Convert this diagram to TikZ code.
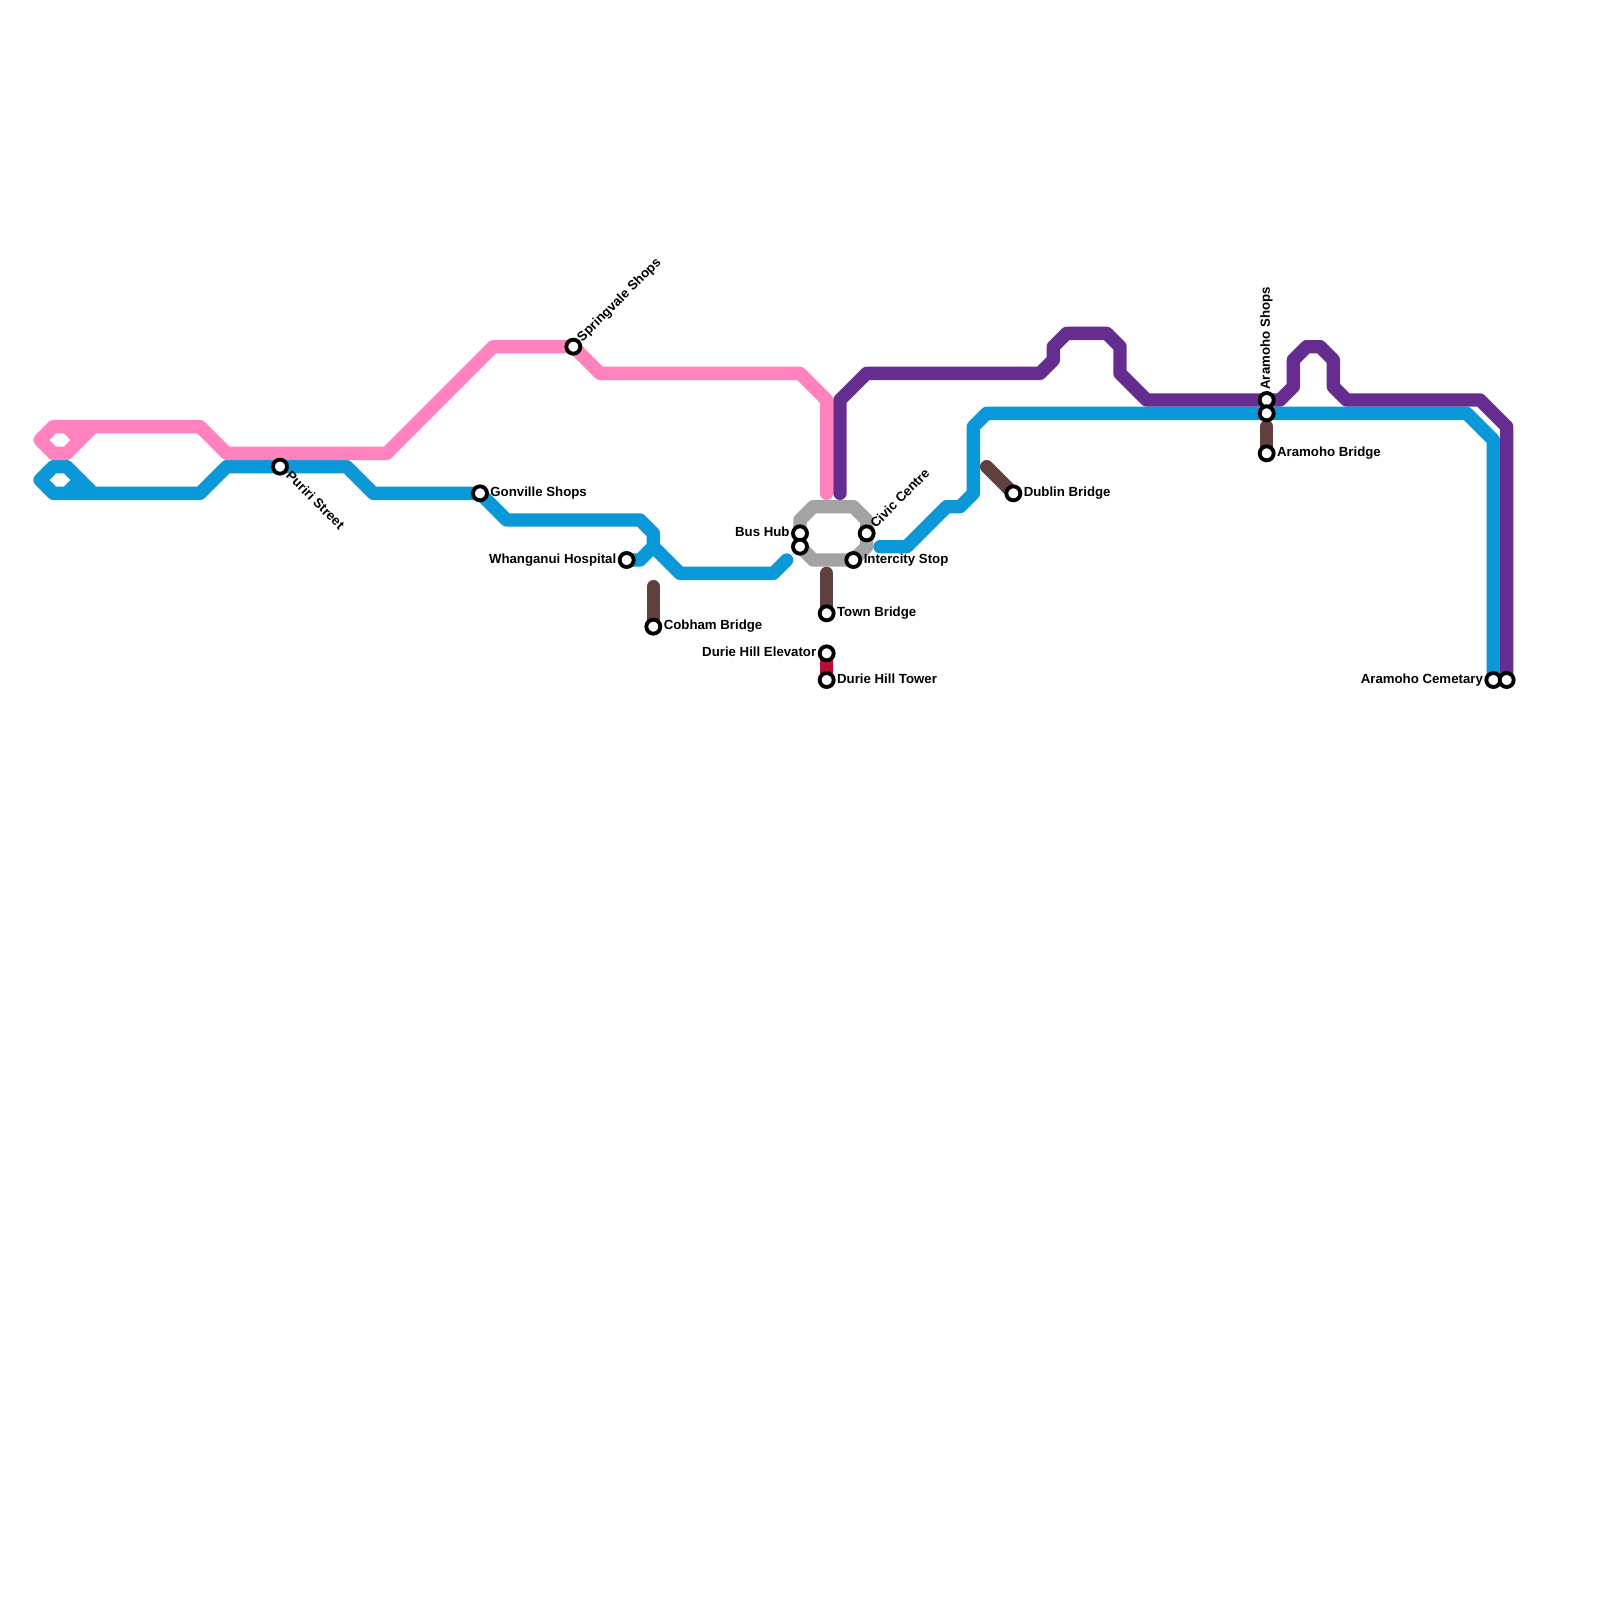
\documentclass[tikz,border=0pt]{standalone}
\usepackage{fontspec}
\setmainfont{Liberation Sans}[BoldFont={Liberation Sans Bold}]
\definecolor{pinkline}{HTML}{FF82BF}
\definecolor{blueline}{HTML}{0A98D8}
\definecolor{purpleline}{HTML}{662D91}
\definecolor{grayline}{HTML}{A3A3A3}
\definecolor{brownline}{HTML}{603F3F}
\definecolor{redline}{HTML}{BB0D36}
\tikzset{
  route/.style={line width=0.4cm,line cap=round,line join=round},
  stn/.style={circle,draw=black,fill=white,line width=0.115cm,minimum size=0.42cm,inner sep=0pt},
  lbl/.style={font=\bfseries\fontsize{11.3pt}{13pt}\selectfont,inner sep=0pt,text height=5.6pt,text depth=0pt}
}
\begin{document}
\begin{tikzpicture}[x=0.4cm,y=-0.4cm]
\useasboundingbox[fill=white] (0,0) rectangle (120,120);
% stations
\coordinate (puriri) at (21,35);
\coordinate (gonville) at (36,37);
\coordinate (springvale) at (43,26);
\coordinate (hospital) at (47,42);
\coordinate (cobham) at (49,47);
\coordinate (hubA) at (60,40);
\coordinate (hubB) at (60,41);
\coordinate (civic) at (65,40);
\coordinate (intercity) at (64,42);
\coordinate (town) at (62,46);
\coordinate (elevator) at (62,49);
\coordinate (tower) at (62,51);
\coordinate (dublin) at (76,37);
\coordinate (shops) at (95,30);
\coordinate (shopsB) at (95,31);
\coordinate (abridge) at (95,34);
\coordinate (cemA) at (112,51);
\coordinate (cemB) at (113,51);
\coordinate (brownA) at (49,44);
\coordinate (brownB) at (62,43);
\coordinate (brownC) at (74,35);
\coordinate (brownD) at (95,32);
% routes
\draw[route,grayline] (60,39) -- (61,38) -- (64,38) -- (65,39) -- (civic) -- (65,41) -- (64,42) -- (61,42) -- (hubB) -- (hubA) -- cycle;
\draw[route,blueline] (7,37) -- (5,35) -- (4,35) -- (3,36) -- (4,37) -- (15,37) -- (17,35) -- (puriri) -- (26,35) -- (28,37) -- (gonville) -- (38,39) -- (48,39) -- (49,40) -- (49,41) -- (51,43) -- (58,43) -- (59,42);
\draw[route,blueline] (5,37) -- (6,36);
\draw[route,blueline] (hospital) -- (48,42) -- (49,41);
\draw[route,blueline] (66,41) -- (68,41) -- (71,38) -- (72,38) -- (73,37) -- (73,32) -- (74,31) -- (shopsB) -- (110,31) -- (112,33) -- (cemA);
\draw[route,pinkline] (7,32) -- (5,34) -- (4,34) -- (3,33) -- (4,32) -- (15,32) -- (17,34) -- (29,34) -- (37,26) -- (springvale) -- (45,28) -- (60,28) -- (62,30) -- (62,37);
\draw[route,pinkline] (5,32) -- (6,33);
\draw[route,purpleline] (63,37) -- (63,30) -- (65,28) -- (78,28) -- (79,27) -- (79,26) -- (80,25) -- (83,25) -- (84,26) -- (84,28) -- (86,30) -- (shops) -- (96,30) -- (97,29) -- (97,27) -- (98,26) -- (99,26) -- (100,27) -- (100,29) -- (101,30) -- (111,30) -- (113,32) -- (cemB);
\draw[route,brownline] (brownA) -- (cobham);
\draw[route,brownline] (brownB) -- (town);
\draw[route,brownline] (brownC) -- (dublin);
\draw[route,brownline] (brownD) -- (abridge);
\draw[route,redline] (elevator) -- (tower);
% station markers
\foreach \s in {puriri,gonville,springvale,hospital,cobham,hubA,hubB,civic,intercity,town,elevator,tower,dublin,shops,shopsB,abridge,cemA,cemB}
  \node[stn] (m\s) at (\s) {};
% labels
\node[lbl,anchor=west,rotate=-45] (tpuriri) at ([shift={(-45:9pt)}]puriri) {Puriri Street};
\node[lbl,anchor=west] (tgonville) at ([xshift=8.7pt]gonville) {Gonville Shops};
\node[lbl,anchor=west,rotate=45] (tspringvale) at ([shift={(45:8pt)}]springvale) {Springvale Shops};
\node[lbl,anchor=east] (thospital) at ([xshift=-8.7pt]hospital) {Whanganui Hospital};
\node[lbl,anchor=west] (tcobham) at ([xshift=8.7pt]cobham) {Cobham Bridge};
\node[lbl,anchor=east] (thub) at ([xshift=-8.7pt]hubA) {Bus Hub};
\node[lbl,anchor=west,rotate=45] (tcivic) at ([shift={(45:8pt)}]civic) {Civic Centre};
\node[lbl,anchor=west] (tintercity) at ([xshift=8.7pt]intercity) {Intercity Stop};
\node[lbl,anchor=west] (ttown) at ([xshift=8.7pt]town) {Town Bridge};
\node[lbl,anchor=east] (televator) at ([xshift=-8.7pt]elevator) {Durie Hill Elevator};
\node[lbl,anchor=west] (ttower) at ([xshift=8.7pt]tower) {Durie Hill Tower};
\node[lbl,anchor=west] (tdublin) at ([xshift=8.7pt]dublin) {Dublin Bridge};
\node[lbl,anchor=west,rotate=90] (tshops) at ([yshift=8.7pt]shops) {Aramoho Shops};
\node[lbl,anchor=west] (tabridge) at ([xshift=8.7pt]abridge) {Aramoho Bridge};
\node[lbl,anchor=east] (tcem) at ([xshift=-8.7pt]cemA) {Aramoho Cemetary};
\end{tikzpicture}
\end{document}
